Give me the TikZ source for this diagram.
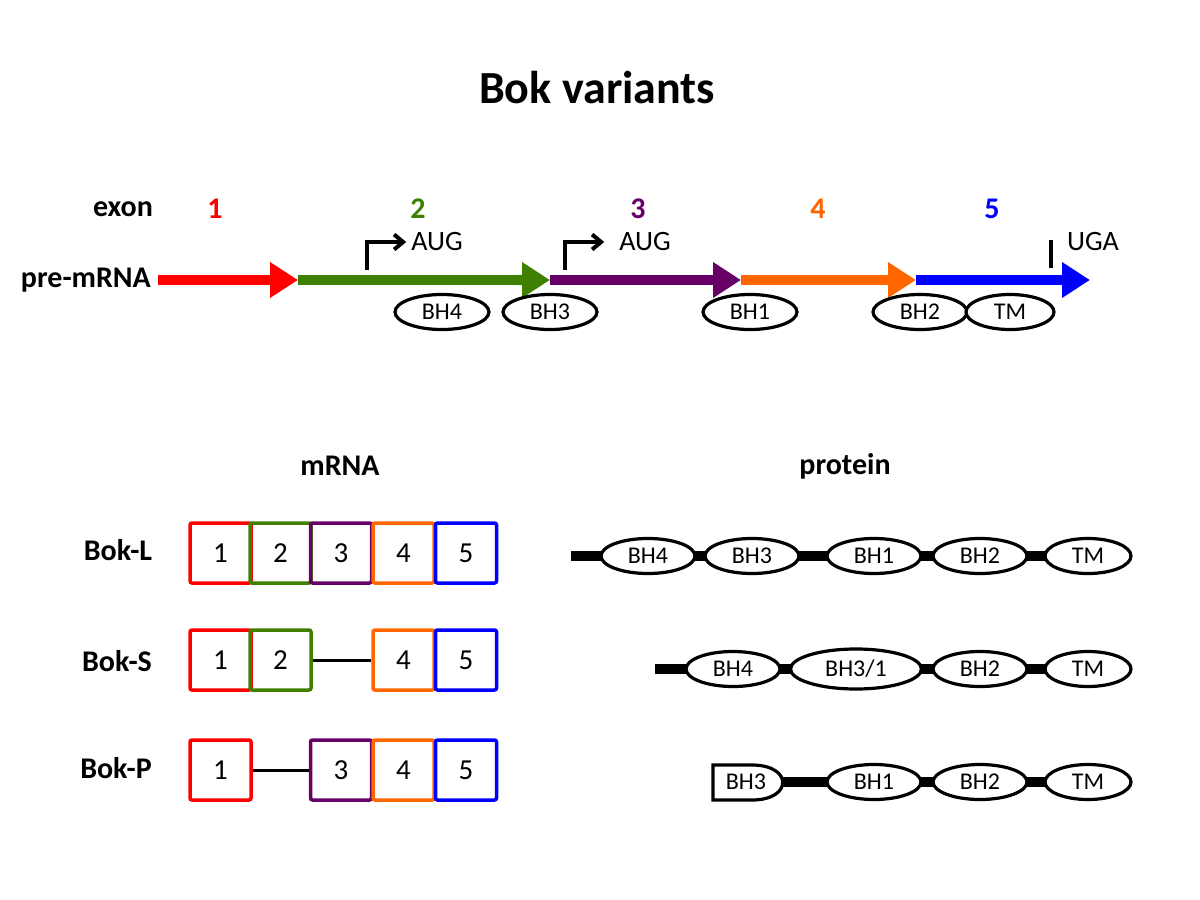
\documentclass[tikz,border=0pt]{standalone}
\usepackage{fontspec}
\setmainfont{Carlito}
\usetikzlibrary{arrows.meta,shapes.geometric,backgrounds}

\definecolor{exred}{RGB}{255,0,0}
\definecolor{exgreen}{RGB}{64,128,0}
\definecolor{expurple}{RGB}{102,0,102}
\definecolor{exorange}{RGB}{255,102,0}
\definecolor{exblue}{RGB}{0,0,255}

\tikzset{
  lbl/.style={font=\fontsize{15}{17}\selectfont\bfseries},
  plain/.style={font=\fontsize{14}{16}\selectfont},
  exon/.style={line width=5pt, -{Triangle[length=14pt,width=17pt]}},
  dom/.style={ellipse, draw, line width=1.6pt, fill=white, inner sep=0pt,
    minimum width=47pt, minimum height=17.5pt, font=\fontsize{12}{14}\selectfont},
  box/.style={draw, line width=1.75pt, rounded corners=1pt, minimum width=30.5pt,
    minimum height=30pt, inner sep=0pt, font=\fontsize{14.5}{16}\selectfont},
  link/.style={line width=5pt},
  gap/.style={line width=1.5pt},
  start/.style={line width=2pt, -{Straight Barb[length=4.5pt,width=7.5pt]}},
}

\begin{document}
\begin{tikzpicture}[x=0.5pt,y=-0.5pt]
  \useasboundingbox (0,0) rectangle (1200,900);

  \node[font=\fontsize{23}{27}\selectfont\bfseries] (title) at (597,88) {Bok variants};

  % pre-mRNA
  \node[lbl] (exlbl) at (123,209) {exon};
  \foreach \n/\x/\c in {1/215/exred,2/418/exgreen,3/638/expurple,4/818/exorange,5/992/exblue}
    \node[lbl, text=\c] (num\n) at (\x,209) {\n};

  \node[lbl, anchor=east] (pre) at (158,280) {pre-mRNA};
  \coordinate (x1) at (298,280);
  \coordinate (x2) at (550,280);
  \coordinate (x3) at (741,280);
  \coordinate (x4) at (916,280);
  \coordinate (x5) at (1090,280);
  \draw[exon, exred] (pre.east) -- (x1);
  \draw[exon, exgreen] (x1) -- (x2);
  \draw[exon, expurple] (x2) -- (x3);
  \draw[exon, exorange] (x3) -- (x4);
  \draw[exon, exblue] (x4) -- (x5);

  \node[plain] (aug1) at (437,242) {AUG};
  \node[plain] (aug2) at (645,242) {AUG};
  \node[plain] (uga) at (1093,242) {UGA};
  \draw[start] (367,270) |- ([xshift=1pt]aug1.west);
  \draw[start] (565,270) |- ([xshift=-4pt]aug2.west);
  \draw[line width=2pt] (1051,240) -- (1051,268);

  \node[dom] (g1) at (442,312) {BH4};
  \node[dom] (g2) at (550,312) {BH3};
  \node[dom] (g3) at (750,312) {BH1};
  \node[dom] (g4) at (920,312) {BH2};
  \node[dom, minimum width=44pt] (g5) at (1010,312) {TM};

  % mRNA
  \node[lbl] (mrna) at (340,466) {mRNA};
  \node[lbl] (prot) at (845,466) {protein};

  \node[lbl] (bokL) at (118,550) {Bok-L};
  \node[lbl] (bokS) at (117,661) {Bok-S};
  \node[lbl] (bokP) at (116,768) {Bok-P};

  \foreach \n/\x/\c in {1/220.5/exred,2/280.5/exgreen,3/341/expurple,4/403.5/exorange,5/466/exblue}
    \node[box, draw=\c] (L\n) at (\x,553) {\n};
  \foreach \n/\x/\c in {1/220.5/exred,2/280.5/exgreen,4/403.5/exorange,5/466/exblue}
    \node[box, draw=\c] (S\n) at (\x,660) {\n};
  \foreach \n/\x/\c in {1/220.5/exred,3/341/expurple,4/403.5/exorange,5/466/exblue}
    \node[box, draw=\c] (P\n) at (\x,770) {\n};
  \draw[gap] (S2.east) -- (S4.west);
  \draw[gap] (P1.east) -- (P3.west);

  % protein
  \node[dom] (pL1) at (648,556) {BH4};
  \node[dom] (pL2) at (752,556) {BH3};
  \node[dom] (pL3) at (874,556) {BH1};
  \node[dom] (pL4) at (980,556) {BH2};
  \node[dom, minimum width=43pt] (pL5) at (1088,556) {TM};
  \coordinate (pL0) at (571,556);

  \node[dom] (pS1) at (733,669) {BH4};
  \node[dom, minimum width=65.5pt, minimum height=20pt] (pS2) at (856,669) {BH3/1};
  \node[dom] (pS3) at (980,669) {BH2};
  \node[dom, minimum width=43pt] (pS4) at (1088,669) {TM};
  \coordinate (pS0) at (655,669);

  \draw[line width=1.6pt, fill=white] (713,765) -- (752,765)
    .. controls (793,765) and (793,800) .. (752,800) -- (713,800) -- cycle;
  \node[font=\fontsize{12}{14}\selectfont] (pP1) at (746,782) {BH3};
  \node[dom] (pP2) at (874,782) {BH1};
  \node[dom] (pP3) at (980,782) {BH2};
  \node[dom, minimum width=43pt] (pP4) at (1088,782) {TM};
  \coordinate (pP0) at (780,782);

  \begin{scope}[on background layer]
    \draw[link] (pL0) -- (pL5.center);
    \draw[link] (pS0) -- (pS4.center);
    \draw[link] (pP0) -- (pP4.center);
  \end{scope}
\end{tikzpicture}
\end{document}
